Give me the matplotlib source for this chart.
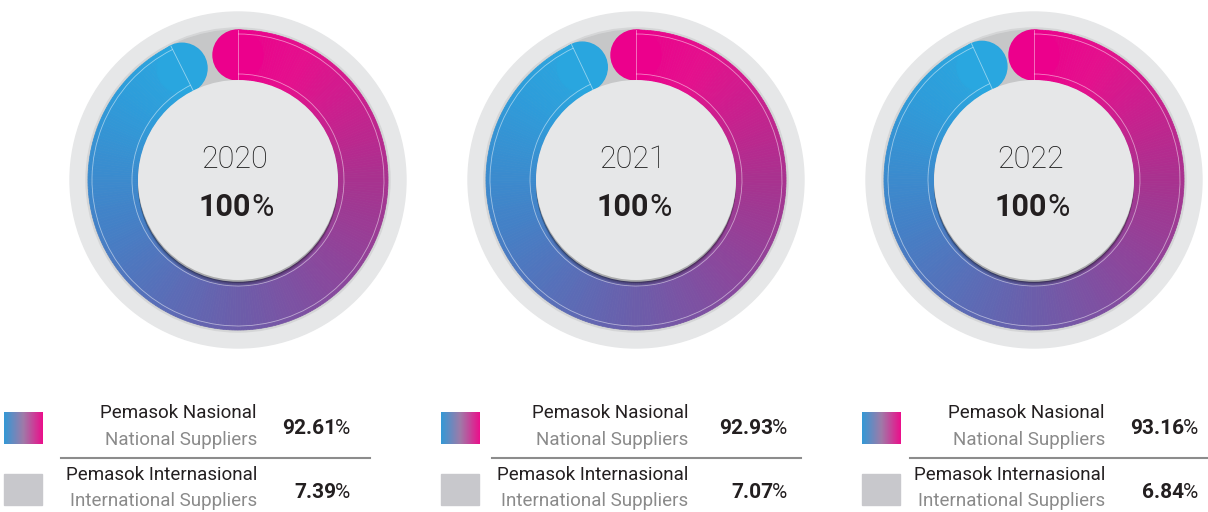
import numpy as np
import matplotlib
matplotlib.use('Agg')
import matplotlib.pyplot as plt
from matplotlib.patches import Circle, Wedge, Arc, Rectangle
from matplotlib.colors import LinearSegmentedColormap

plt.rcParams['font.family'] = ['Roboto', 'DejaVu Sans']

# dati
anni = ['2020', '2021', '2022']
nazionale = [92.61, 92.93, 93.16]
internazionale = [7.39, 7.07, 6.84]
totale = [100, 100, 100]
etichetta_naz = ['Pemasok Nasional', 'National Suppliers']
etichetta_int = ['Pemasok Internasional', 'International Suppliers']

# layout (pixel)
W, H = 1208, 512
centri_x = [238, 636, 1034]
centro_y = 180
quad_x = [4, 441, 862]
testo_x = [257, 688, 1105]
perc_x = [350, 787, 1198]
linea_x = [(61, 370), (492, 801), (910, 1208)]

NERO = '#231F20'
GRIGIO = '#8A8A8A'

anello = LinearSegmentedColormap.from_list('anello', [
    (0.0, '#EC008C'), (0.08, '#E4108D'), (0.25, '#A8328F'), (0.5, '#6C5DAA'),
    (0.7, '#4381C7'), (0.85, '#2E9CDA'), (1.0, '#25AFE4')])
legenda = LinearSegmentedColormap.from_list('legenda', ['#3399D6', '#A07AA8', '#EC0E8B'])


def py(y):
    return H - y


def disegna_anello(ax, cx, cy, quota, anno, tot):
    r_est, spess = 150, 50
    r_med = r_est - spess / 2
    ax.add_patch(Circle((cx, cy), 168, color='#E6E7E8', zorder=1))
    ax.add_patch(Circle((cx, cy), 152, color='#D5D6D7', zorder=2))
    ax.add_patch(Wedge((cx, cy), r_est, 0, 360, width=spess, color='#C6C7C8', zorder=3))

    fine = 360 * quota / 100
    passi = np.linspace(0, fine, 301)
    for a, b in zip(passi[:-1], passi[1:]):
        col = anello((a + b) / 2 / 360)
        ax.add_patch(Wedge((cx, cy), r_est, 90 - b, 90 - a, width=spess,
                           fc=col, ec=col, lw=0.5, zorder=4))
    # estremi arrotondati
    for ang in [0, fine]:
        t = np.deg2rad(90 - ang)
        ax.add_patch(Circle((cx + r_med * np.cos(t), cy + r_med * np.sin(t)), spess / 2,
                            color=anello(ang / 360), zorder=4))

    # linee sottili decorative
    for r in [106, 146]:
        ax.add_patch(Arc((cx, cy), 2 * r, 2 * r, theta1=90 - fine, theta2=90,
                         color='white', lw=0.6, alpha=0.5, zorder=5))
    for ang in [0, fine]:
        t = np.deg2rad(90 - ang)
        ax.plot([cx + 100 * np.cos(t), cx + r_est * np.cos(t)],
                [cy + 100 * np.sin(t), cy + r_est * np.sin(t)],
                color='white', lw=0.6, alpha=0.5, zorder=5)

    # disco centrale con ombra verso il basso
    for dy, a in [(6, 0.10), (4.5, 0.15), (3, 0.25)]:
        ax.add_patch(Circle((cx, cy - dy), 100, color='black', alpha=a, lw=0, zorder=6))
    ax.add_patch(Circle((cx, cy - 1.8), 100, color='#A9AAAB', lw=0, zorder=6))
    ax.add_patch(Circle((cx, cy), 100, color='#E6E7E8', lw=0, zorder=7))

    ax.text(cx - 3, cy + 20, anno, fontsize=22, fontweight='light', color='#1A1A1A',
            ha='center', va='center', zorder=8)
    t = ax.text(cx + 13, cy - 27, f'{tot}', fontsize=22, fontweight='bold', color=NERO,
                ha='right', va='center', zorder=8)
    ax.annotate('%', xy=(1, 0.5), xycoords=t, fontsize=22, color=NERO,
                ha='left', va='center', zorder=8)


def disegna_legenda(ax, i, naz, inter):
    ax.imshow(np.linspace(0, 1, 200).reshape(1, -1), cmap=legenda, aspect='auto',
              extent=(quad_x[i], quad_x[i] + 39, py(444), py(412)), zorder=2)
    ax.add_patch(Rectangle((quad_x[i], py(505)), 38, 31, color='#C8C8CC', zorder=2))

    ax.text(testo_x[i], py(413), etichetta_naz[0], fontsize=13.5, color=NERO, ha='right', va='center')
    ax.text(testo_x[i], py(440), etichetta_naz[1], fontsize=13.5, color=GRIGIO, ha='right', va='center')
    ax.text(testo_x[i], py(475), etichetta_int[0], fontsize=13.5, color=NERO, ha='right', va='center')
    ax.text(testo_x[i], py(501), etichetta_int[1], fontsize=13.5, color=GRIGIO, ha='right', va='center')

    for val, y in [(naz, 428), (inter, 492)]:
        p = ax.text(perc_x[i], py(y), '%', fontsize=15, color=NERO, ha='right', va='center')
        ax.annotate(f'{val:.2f}', xy=(0, 0.5), xycoords=p, xytext=(1, 0), textcoords='offset points',
                    fontsize=15, fontweight='bold', color=NERO, ha='right', va='center')

    ax.plot(linea_x[i], [py(458)] * 2, color='#8C8C8C', lw=1.5)


fig = plt.figure(figsize=(W / 100, H / 100), dpi=100)
ax = fig.add_axes([0, 0, 1, 1])

for i in range(3):
    disegna_anello(ax, centri_x[i], py(centro_y), nazionale[i], anni[i], totale[i])
    disegna_legenda(ax, i, nazionale[i], internazionale[i])

ax.set_xlim(0, W)
ax.set_ylim(0, H)
ax.set_aspect('auto')
ax.axis('off')

fig.savefig('out.png', dpi=100, facecolor='white')
